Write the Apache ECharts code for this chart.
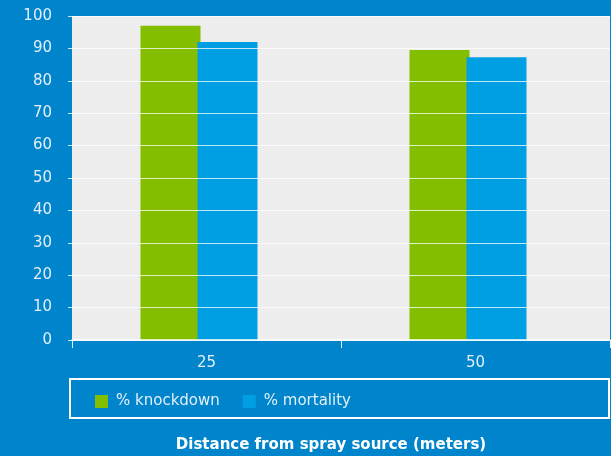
<!DOCTYPE html>
<html>
<head>
<meta charset="utf-8">
<title>Knockdown and mortality by distance</title>
<script src="https://cdn.jsdelivr.net/npm/echarts@6/dist/echarts.min.js"></script>
<style>
  html, body { margin: 0; padding: 0; background: #0085CC; }
  #chart { width: 611px; height: 456px; }
</style>
</head>
<body>
<div id="chart"></div>
<script>
// Distance from spray source (meters)
const distances = ['25', '50'];
// Percent of mosquitoes knocked down / dead at each distance
const knockdown = [97, 89.5];
const mortality = [92, 87.3];
// Value axis ticks
const yMin = 0;
const yMax = 100;
const yStep = 10;

const FONT = '"DejaVu Sans", sans-serif';
const TEXT = '#E3EFF8';

const chart = echarts.init(document.getElementById('chart'), null, { renderer: 'canvas' });

chart.setOption({
  backgroundColor: '#0085CC',
  animation: false,
  grid: {
    left: 72, right: 1, top: 16, bottom: 116,
    show: true, backgroundColor: '#EDEDED', borderWidth: 0
  },
  legend: {
    data: ['% knockdown', '% mortality'],
    left: 90, top: 389,
    itemWidth: 13, itemHeight: 13, itemGap: 23,
    icon: 'rect',
    textStyle: { color: TEXT, fontSize: 15, fontFamily: FONT, padding: [0, 0, 0, 3] }
  },
  xAxis: {
    type: 'category',
    data: distances,
    z: 10,
    axisLine: { lineStyle: { color: '#FFFFFF', width: 1.5 } },
    axisTick: { show: true, length: 8, lineStyle: { color: '#E6F1FA' } },
    axisLabel: { color: TEXT, fontSize: 15, fontFamily: FONT, margin: 16 }
  },
  yAxis: [
    {
      type: 'value', min: yMin, max: yMax, interval: yStep,
      axisLine: { show: false },
      axisTick: { show: true, length: 4, lineStyle: { color: '#CFE6F5' } },
      splitLine: { show: false },
      axisLabel: { color: TEXT, fontSize: 15, fontFamily: FONT, margin: 20 }
    },
    {
      // grid lines drawn above the bars
      type: 'value', min: yMin, max: yMax, interval: yStep,
      position: 'left', z: 10,
      axisLine: { show: false },
      axisTick: { show: false },
      axisLabel: { show: false },
      splitLine: { show: true, lineStyle: { color: 'rgba(255,255,255,0.75)', width: 1 } }
    }
  ],
  series: [
    {
      name: '% knockdown', type: 'bar', data: knockdown,
      barWidth: 60, barGap: '-5%',
      itemStyle: { color: '#83BE00' }
    },
    {
      name: '% mortality', type: 'bar', data: mortality,
      barWidth: 60, barGap: '-5%',
      itemStyle: { color: '#009FE3' }
    },
    {
      // empty slot that keeps the bar pair left of the category centre
      name: 'spacer', type: 'bar', data: distances.map(() => null),
      barWidth: 18, barGap: '-5%', silent: true,
      itemStyle: { color: 'transparent' }
    }
  ],
  graphic: [
    {
      type: 'rect', z: 5,
      shape: { x: 70, y: 379, width: 539, height: 39 },
      style: { fill: 'none', stroke: '#FFFFFF', lineWidth: 2 }
    },
    {
      type: 'text', z: 5,
      x: 331, y: 445,
      style: {
        text: 'Distance from spray source (meters)',
        fill: '#FFFFFF', fontSize: 15, fontWeight: 'bold', fontFamily: FONT,
        textAlign: 'center', textVerticalAlign: 'middle'
      }
    }
  ]
});
</script>
</body>
</html>
